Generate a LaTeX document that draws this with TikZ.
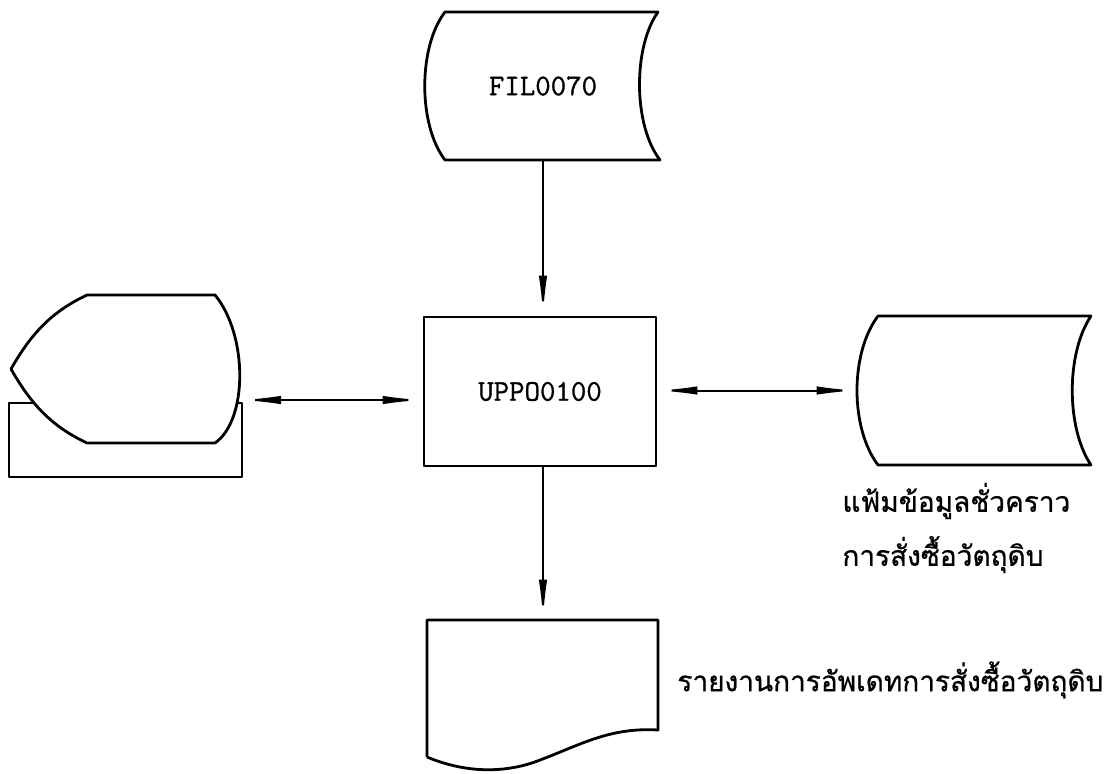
\documentclass[tikz,border=0pt]{standalone}
\usepackage{fontspec}
\newfontfamily\thaifont[Script=Thai,FakeBold=0.8]{Loma}
\newfontfamily\codefont[FakeBold=1]{Latin Modern Mono}
\usetikzlibrary{arrows.meta}

\tikzset{
  symbox/.style={inner sep=0pt, font=\codefont\fontsize{15}{15}\selectfont},
  outline/.style={line width=1.4pt, line join=round},
  flow/.style={line width=1pt, -{Latex[length=20pt,width=4.2pt]}},
  flowboth/.style={line width=1pt, {Latex[length=20pt,width=4.2pt]}-{Latex[length=20pt,width=4.2pt]}},
  thailabel/.style={font=\thaifont\fontsize{14}{27}\selectfont, anchor=west, inner sep=0pt, align=left}
}

\begin{document}
\begin{tikzpicture}[x=0.5pt,y=-0.5pt]
        \useasboundingbox (0,0) rectangle (1113,773);

        % draw nodes
        \node[symbox, minimum width=117.5pt, minimum height=74pt] (fil) at (543,86) {FIL0070};
        \node[symbox, draw, outline, minimum width=116pt, minimum height=74.5pt] (proc) at (540,391.5) {UPPO0100};
        \node[symbox, minimum width=114.5pt, minimum height=74pt] (disp) at (125.5,369) {};
        \node[symbox, minimum width=117pt, minimum height=74.5pt] (tmp) at (974,390.5) {};
        \node[symbox, minimum width=115.5pt, minimum height=75pt] (rep) at (542.5,695) {};

        % draw stored data FIL0070
        \draw[outline] (445,12) -- (658,12) .. controls (633,47) and (633,125) .. (660,160)
          -- (445,160) .. controls (418,125) and (418,47) .. (445,12) -- cycle;

        % draw display on its base
        \draw[outline] (9,403) rectangle (242,477);
        \draw[outline, fill=white] (87,295) -- (215,295) .. controls (248,335) and (248,420) .. (215,443)
          -- (87,443) .. controls (51,426) and (31,404) .. (11,369)
          .. controls (31,334) and (51,312) .. (87,295) -- cycle;

        % draw temporary file
        \draw[outline] (878,316) -- (1091,316) .. controls (1066,353) and (1066,428) .. (1091,465)
          -- (878,465) .. controls (850,428) and (850,353) .. (878,316) -- cycle;

        % draw report
        \draw[outline] (427,757) -- (427,620) -- (658,620) -- (658,730)
          .. controls (610,727) and (580,745) .. (540,760)
          .. controls (510,772) and (470,775) .. (427,757);

        % draw connectors
        \coordinate (dispR) at (241,400);
        \draw[flow] (fil.south) -- (fil.south |- proc.north);
        \draw[flow] (proc.south -| fil.south) -- (rep.north -| fil.south);
        \draw[flowboth] (dispR) -- (dispR -| proc.west);
        \draw[flowboth] (proc.east |- tmp.west) -- (tmp.west);

        % draw labels
        \node[thailabel] (tmpLabel) at (842,528) {แฟ้มข้อมูลชั่วคราว\\การสั่งซื้อวัตถุดิบ};
        \node[thailabel] (repLabel) at (677,680) {รายงานการอัพเดทการสั่งซื้อวัตถุดิบ};
\end{tikzpicture}
\end{document}
